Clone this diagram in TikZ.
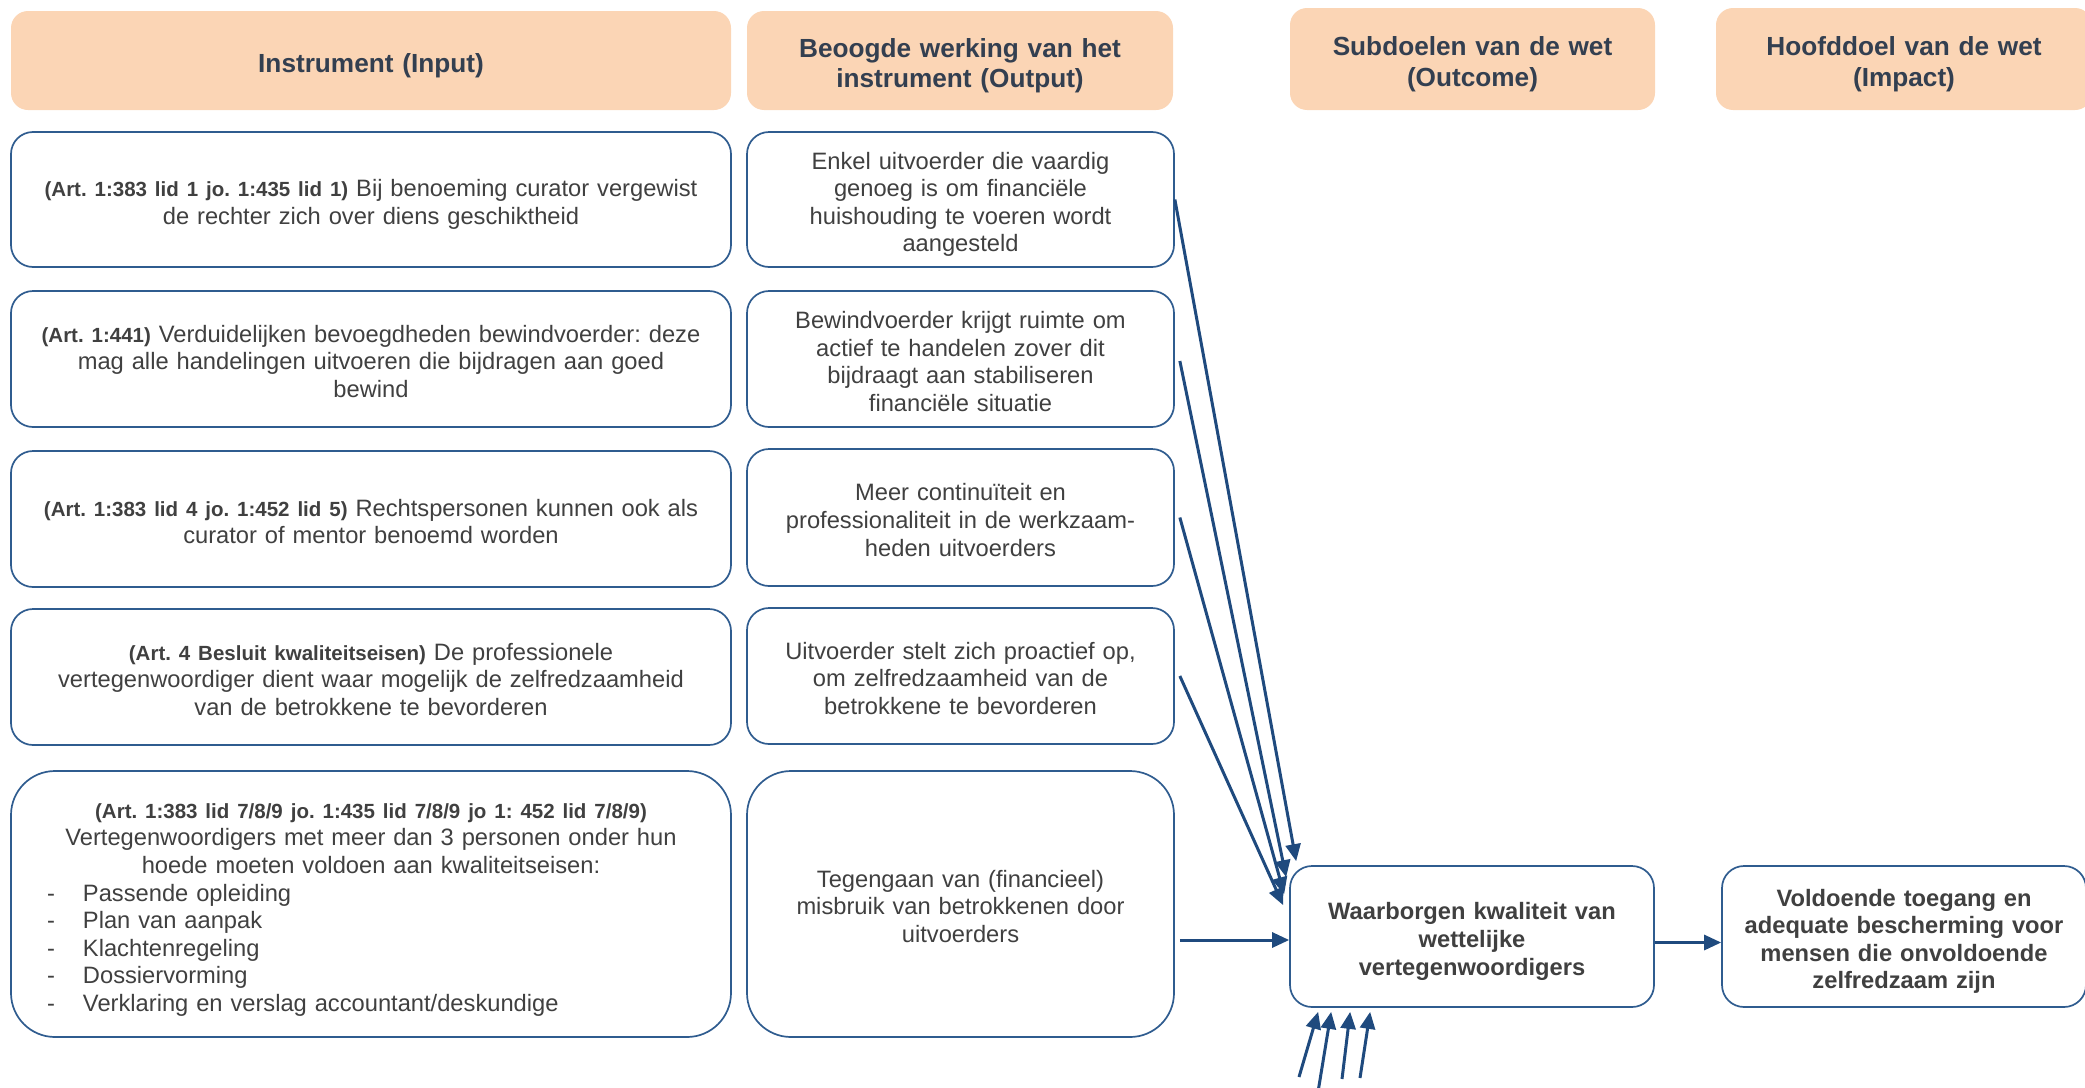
\documentclass[tikz,border=0pt]{standalone}
\usepackage{fontspec}
\setmainfont{Liberation Sans}
\usetikzlibrary{arrows.meta,calc}
\frenchspacing
\definecolor{hdrfill}{HTML}{FBD5B5}
\definecolor{hdrtext}{HTML}{333F50}
\definecolor{bodytext}{HTML}{404040}
\definecolor{boxline}{HTML}{2F5C8F}
\definecolor{arrowcol}{HTML}{1F4A7E}
\newcommand{\artb}[1]{{\fontsize{20.5}{24}\selectfont\bfseries #1}}
\newcommand{\bodyfont}{\fontsize{23.7}{27.6}\selectfont}
\newcommand{\hdrfont}{\fontsize{26.2}{30.6}\selectfont\bfseries}
\newcommand{\bitem}[1]{\leavevmode\makebox[648pt][l]{\makebox[36pt][l]{-}#1}}
\newcommand{\topstrut}{\rule{0pt}{1.15em}}
\newcommand{\botstrut}{\rule[-0.23em]{0pt}{0.23em}}
\begin{document}
\begin{tikzpicture}[x=1pt,y=-1pt,
  hdr/.style={fill=hdrfill, draw=none, rounded corners=17pt, inner sep=0pt, text=hdrtext, font=\hdrfont, align=center, minimum height=99pt},
  cbox/.style={draw=boxline, line width=1.7pt, rounded corners=22pt, inner sep=0pt, text=bodytext, font=\bodyfont, align=center, fill=white},
  bigbox/.style={cbox, rounded corners=44pt, minimum height=266pt},
  conn/.style={draw=arrowcol, line width=3pt, -{Triangle[length=17pt,width=15pt]}}]
\useasboundingbox (0,0) rectangle (2085,1087);

% headers
\node[hdr, minimum width=720pt, text width=700pt] (h1) at (371,60.5) {\topstrut Instrument (Input)\botstrut};
\node[hdr, minimum width=426pt, text width=400pt] (h2) at (960,60.5) {\topstrut Beoogde werking van het\\instrument (Output)\botstrut};
\node[hdr, minimum width=365pt, minimum height=102pt, text width=345pt] (h3) at (1472.5,59) {\topstrut Subdoelen van de wet\\(Outcome)\botstrut};
\node[hdr, minimum width=376pt, minimum height=102pt, text width=356pt] (h4) at (1904,59) {\topstrut Hoofddoel van de wet\\(Impact)\botstrut};

% left column
\node[cbox, minimum width=720pt, minimum height=135pt, text width=690pt] (r1) at (371,199.5)
  {\topstrut\artb{(Art. 1:383 lid 1 jo. 1:435 lid 1)} Bij benoeming curator vergewist\\de rechter zich over diens geschiktheid\botstrut};
\node[cbox, minimum width=720pt, minimum height=136pt, text width=690pt] (r2) at (371,359)
  {\topstrut\artb{(Art. 1:441)} Verduidelijken bevoegdheden bewindvoerder: deze\\mag alle handelingen uitvoeren die bijdragen aan goed\\bewind\botstrut};
\node[cbox, minimum width=720pt, minimum height=136pt, text width=690pt] (r3) at (371,519)
  {\topstrut\artb{(Art. 1:383 lid 4 jo. 1:452 lid 5)} Rechtspersonen kunnen ook als\\curator of mentor benoemd worden\botstrut};
\node[cbox, minimum width=720pt, minimum height=136pt, text width=690pt] (r4) at (371,677)
  {\topstrut\artb{(Art. 4 Besluit kwaliteitseisen)} De professionele\\vertegenwoordiger dient waar mogelijk de zelfredzaamheid\\van de betrokkene te bevorderen\botstrut};
\node[bigbox, minimum width=720pt, text width=648pt] (r5) at (371,904)
  {\topstrut\artb{(Art. 1:383 lid 7/8/9 jo. 1:435 lid 7/8/9 jo 1: 452 lid 7/8/9)}\\Vertegenwoordigers met meer dan 3 personen onder hun\\hoede moeten voldoen aan kwaliteitseisen:\\\bitem{Passende opleiding}\\\bitem{Plan van aanpak}\\\bitem{Klachtenregeling}\\\bitem{Dossiervorming}\\\bitem{Verklaring en verslag accountant/deskundige\botstrut}};

% middle column
\node[cbox, minimum width=427pt, minimum height=135pt, text width=410pt] (m1) at (960.5,199.5)
  {\topstrut Enkel uitvoerder die vaardig\\genoeg is om financiële\\huishouding te voeren wordt\\aangesteld\botstrut};
\node[cbox, minimum width=427pt, minimum height=136pt, text width=410pt] (m2) at (960.5,359)
  {\topstrut Bewindvoerder krijgt ruimte om\\actief te handelen zover dit\\bijdraagt aan stabiliseren\\financiële situatie\botstrut};
\node[cbox, minimum width=427pt, minimum height=137pt, text width=410pt] (m3) at (960.5,517.5)
  {\topstrut Meer continuïteit en\\professionaliteit in de werkzaam-\\heden uitvoerders\botstrut};
\node[cbox, minimum width=427pt, minimum height=136pt, text width=410pt] (m4) at (960.5,676)
  {\topstrut Uitvoerder stelt zich proactief op,\\om zelfredzaamheid van de\\betrokkene te bevorderen\botstrut};
\node[bigbox, minimum width=427pt, text width=410pt] (m5) at (960.5,904)
  {\topstrut Tegengaan van (financieel)\\misbruik van betrokkenen door\\uitvoerders\botstrut};

% outcome / impact
\node[cbox, minimum width=364pt, minimum height=141pt, text width=340pt, font=\bodyfont\bfseries] (w) at (1472,936.5)
  {\topstrut Waarborgen kwaliteit van\\wettelijke\\vertegenwoordigers\botstrut};
\node[cbox, minimum width=364pt, minimum height=141pt, text width=345pt, font=\bodyfont\bfseries] (v) at (1904,936.5)
  {\topstrut Voldoende toegang en\\adequate bescherming voor\\mensen die onvoldoende\\zelfredzaam zijn\botstrut};

% connectors
\draw[conn] (m1.east) -- ($(w.north west)+(7,-4)$);
\draw[conn] ($(m2.east)+(5,2)$) -- ($(w.north west)+(-3,12)$);
\draw[conn] ($(m3.east)+(5,0)$) -- ($(w.north west)+(-5,29)$);
\draw[conn] ($(m4.east)+(5,0)$) -- ($(w.north west)+(-6,40)$);
\coordinate (a5) at ($(m5.east)+(5,36)$);
\draw[conn] (a5) -- (a5 -| w.west);
\draw[conn] ($(w.east)+(0,6)$) -- ($(v.west)+(0,6)$);

\coordinate (b1) at (1299,1077);
\coordinate (b2) at (1318,1092);
\coordinate (b3) at (1342,1079);
\coordinate (b4) at (1360,1078);
\draw[conn] (b1) -- ($(w.south west)+(29,4)$);
\draw[conn] (b2) -- ($(w.south west)+(42,4)$);
\draw[conn] (b3) -- ($(w.south west)+(61,4)$);
\draw[conn] (b4) -- ($(w.south west)+(81,4)$);
\end{tikzpicture}
\end{document}
